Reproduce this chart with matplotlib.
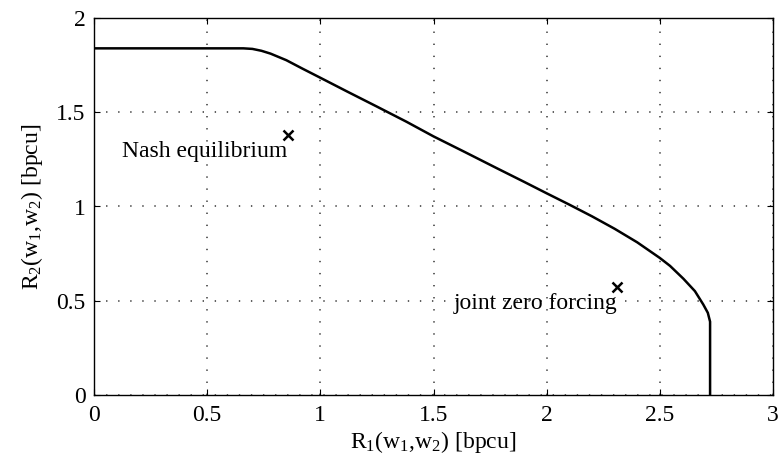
# -*- coding: utf-8 -*-

import matplotlib
matplotlib.use("Agg")
import matplotlib.pyplot as plt

# =========================
# 数据
r1_boundary = [0.0, 0.66, 0.70, 0.74, 0.78, 0.85, 0.92, 1.0, 1.12, 1.25, 1.38,
               1.5, 1.64, 1.78, 1.9, 2.0, 2.1, 2.2, 2.3, 2.4, 2.5, 2.545, 2.604,
               2.655, 2.692, 2.712, 2.722, 2.722]
r2_boundary = [1.839, 1.839, 1.836, 1.826, 1.811, 1.776, 1.732, 1.683, 1.609, 1.530, 1.450,
               1.372, 1.288, 1.203, 1.131, 1.070, 1.010, 0.948, 0.882, 0.810, 0.727, 0.685,
               0.617, 0.551, 0.480, 0.436, 0.389, 0.0]

point_names = ["Nash equilibrium", "joint zero forcing"]
point_r1 = [0.859, 2.312]
point_r2 = [1.379, 0.571]

x_ticks = [0, 0.5, 1, 1.5, 2, 2.5, 3]
x_tick_labels = ["0", "0.5", "1", "1.5", "2", "2.5", "3"]
y_ticks = [0, 0.5, 1, 1.5, 2]
y_tick_labels = ["0", "0.5", "1", "1.5", "2"]

# =========================
# 字体设置
plt.rcParams["font.family"] = ["Liberation Serif", "DejaVu Serif"]
plt.rcParams["mathtext.fontset"] = "custom"
plt.rcParams["mathtext.rm"] = "Liberation Serif"
plt.rcParams["mathtext.it"] = "Liberation Serif:italic"
plt.rcParams["font.size"] = 17

fig = plt.figure(figsize=(7.8, 4.65), dpi=100)
ax = fig.add_axes([94 / 780, 1 - 395 / 465, (773 - 94) / 780, (395 - 18) / 465])

# 边界曲线
ax.plot(r1_boundary, r2_boundary, color="k", lw=1.8,
        solid_joinstyle="round", solid_capstyle="butt", zorder=3)

# 标记点与文字
ax.plot(point_r1, point_r2, "x", color="k", ms=7, mew=1.8, zorder=4)
ax.text(point_r1[0] - 0.006, point_r2[0] - 0.116, point_names[0],
        ha="right", va="baseline", fontsize=17)
ax.text(point_r1[1], point_r2[1] - 0.115, point_names[1],
        ha="right", va="baseline", fontsize=17)

# 坐标轴
ax.set_xlim(0, 3)
ax.set_ylim(0, 2)
ax.set_xticks(x_ticks)
ax.set_xticklabels(x_tick_labels)
ax.set_yticks(y_ticks)
ax.set_yticklabels(y_tick_labels)
ax.tick_params(direction="in", length=4.3, width=0.8, top=True, right=True,
               labelsize=17)
ax.tick_params(axis="x", pad=7)
ax.tick_params(axis="y", pad=6)
for s in ax.spines.values():
    s.set_linewidth(1.0)

ax.grid(True, color="0.2", lw=1.1, ls=(0, (0.9, 7.0)))

ax.set_xlabel(r"R$_1$(w$_1$,w$_2$) [bpcu]", fontsize=17, labelpad=2)
ax.set_ylabel(r"R$_2$(w$_1$,w$_2$) [bpcu]", fontsize=17, labelpad=8)

fig.savefig("out.png", dpi=100)
plt.close(fig)
